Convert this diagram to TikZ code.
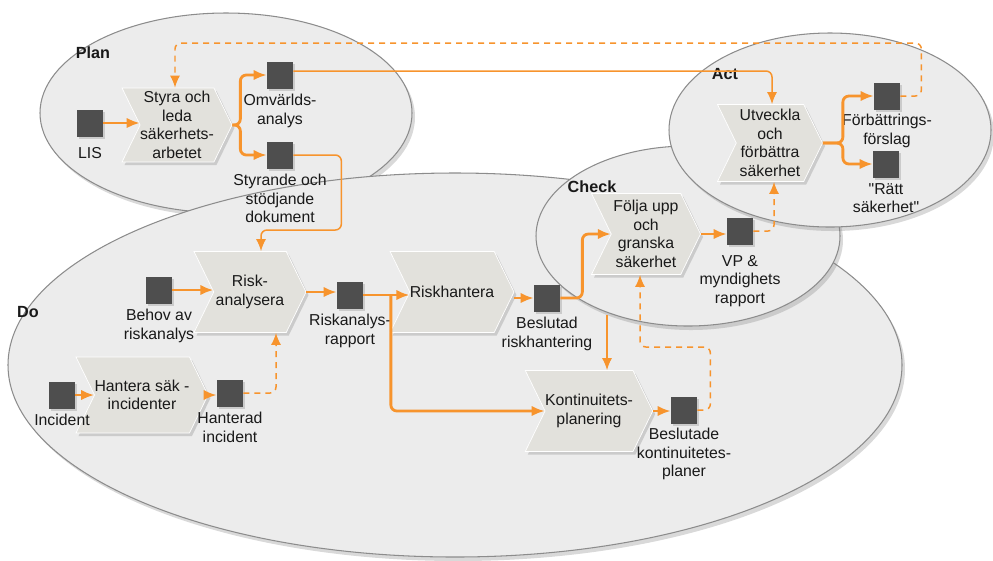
\documentclass[tikz,border=0pt]{standalone}
\usepackage{fontspec}
\setmainfont{Liberation Sans}[Ligatures=TeXOff]
\usetikzlibrary{shapes.symbols,arrows.meta,positioning,shadows}

\definecolor{floworange}{RGB}{247,148,45}
\definecolor{phasegray}{RGB}{236,236,236}
\definecolor{procgray}{RGB}{226,225,220}
\definecolor{docgray}{RGB}{78,78,78}

\tikzset{
  phase/.style={fill=phasegray, draw=black!45, line width=0.6pt,
    drop shadow={shadow xshift=0.6mm, shadow yshift=-0.8mm, opacity=0.3}},
  phasename/.style={font=\bfseries\fontsize{9.2}{11}\selectfont, inner sep=0pt},
  proc/.style={shape=signal, signal to=east, signal from=west, signal pointer angle=128,
    fill=procgray, draw=white, line width=0.4pt, minimum width=22.4mm, minimum height=16.2mm,
    inner sep=0pt, align=center,
    drop shadow={shadow xshift=0.5mm, shadow yshift=-0.6mm, opacity=0.3}},
  doc/.style={fill=docgray, minimum width=5.2mm, minimum height=5.4mm, inner sep=0pt,
    drop shadow={shadow xshift=0.4mm, shadow yshift=-0.5mm, opacity=0.3}},
  doclabel/.style={align=center, inner sep=0pt},
  flow/.style={draw=floworange, line width=1.6pt, rounded corners=1.2mm,
    -{Latex[length=2.6mm,width=2.1mm]}},
  link/.style={draw=floworange, line width=0.85pt, rounded corners=1.2mm,
    -{Latex[length=2.4mm,width=2mm]}},
  back/.style={link, dash pattern=on 1.2mm off 1mm},
}

\begin{document}
\begin{tikzpicture}[x=0.2mm, y=-0.2mm, font=\fontsize{9}{10.6}\selectfont, text=black!90]
\useasboundingbox (0,0) rectangle (993,560);

% phases
\draw[phase] (226,113) ellipse [x radius=186, y radius=100];
\draw[phase] (455,365) ellipse [x radius=447, y radius=192];
\draw[phase] (688,236) ellipse [x radius=152, y radius=90];
\draw[phase] (830,130) ellipse [x radius=161, y radius=97];

\node[phasename] (plan) at (93,53) {Plan};
\node[phasename] (do) at (28,312) {Do};
\node[phasename] (check) at (592,187) {Check};
\node[phasename] (act) at (725,74) {Act};

% processes
\node[proc, minimum width=21.2mm, minimum height=14.8mm] (styra) at (177,125) {Styra och\\leda\\säkerhets-\\arbetet};
\node[proc] (riskan) at (250,292) {Risk-\\analysera};
\node[proc, minimum width=22.6mm] (riskh) at (452,292) {Riskhantera};
\node[proc, minimum width=20.6mm, minimum height=15.2mm] (hant) at (142,395) {Hantera säk -\\incidenter};
\node[proc] (kont) at (589,411) {Kontinuitets-\\planering};
\node[proc, minimum width=21.8mm] (folja) at (646,234) {Följa upp\\och\\granska\\säkerhet};
\node[proc, minimum width=21mm, minimum height=15.4mm] (utv) at (770,143) {Utveckla\\och\\förbättra\\säkerhet};

% documents
\node[doc] (lis) at (90,123) {};
\node[doc] (omv) at (280,75) {};
\node[doc] (styr) at (280,155) {};
\node[doc] (behov) at (159,290) {};
\node[doc] (rapp) at (350,295) {};
\node[doc] (inc) at (62,395) {};
\node[doc] (hanterad) at (230,393) {};
\node[doc] (beslr) at (547,298) {};
\node[doc] (beslk) at (684,410) {};
\node[doc] (vp) at (740,231) {};
\node[doc] (forb) at (887,96) {};
\node[doc] (ratt) at (886,164) {};

\node[doclabel, below=2mm of lis] (lis-t) {LIS};
\node[doclabel, below=1mm of omv] (omv-t) {Omvärlds-\\analys};
\node[doclabel, below=1mm of styr] (styr-t) {Styrande och\\stödjande\\dokument};
\node[doclabel, below=1mm of behov] (behov-t) {Behov av\\riskanalys};
\node[doclabel, below=1mm of rapp] (rapp-t) {Riskanalys-\\rapport};
\node[doclabel, below=1mm of inc] (inc-t) {Incident};
\node[doclabel, below=1mm of hanterad] (hanterad-t) {Hanterad\\incident};
\node[doclabel, below=1mm of beslr] (beslr-t) {Beslutad\\riskhantering};
\node[doclabel, below=0.8mm of beslk] (beslk-t) {Beslutade\\kontinuitetes-\\planer};
\node[doclabel, below=2mm of vp] (vp-t) {VP \&\\myndighets\\rapport};
\node[doclabel, below=0.8mm of forb] (forb-t) {Förbättrings-\\förslag};
\node[doclabel, below=1mm of ratt] (ratt-t) {"Rätt\\säkerhet"};

% junctions
\coordinate (styra-j) at ([xshift=1.6mm]styra.east);
\coordinate (rapp-j) at ([xshift=5.5mm]rapp.east);
\coordinate (utv-j) at ([xshift=4mm]utv.east);
\coordinate (beslr-k) at (607,315);

% plan
\draw[flow] (lis) -- (lis -| styra.west);
\draw[flow] (styra.east) -- (styra-j) |- (omv);
\draw[flow] (styra.east) -- (styra-j) |- (styr);
\draw[link] (styr.east) -- ++(48,0) -- ++(0,75) -| ([xshift=2.2mm]riskan.north);
\draw[link] ([yshift=0.8mm]omv.east) -| ([xshift=0.4mm]utv.north);

% do
\draw[flow] (behov) -- (behov -| riskan.west);
\draw[flow] (riskan.east) -- (riskan.east -| rapp.west);
\draw[flow] (rapp) -- (rapp -| riskh.west);
\draw[flow] (rapp-j) |- (kont.west);
\draw[flow] (riskh.east |- beslr) -- (beslr);
\draw[flow] (inc) -- (inc -| hant.west);
\draw[flow] (hant.east) -- (hant.east -| hanterad.west);
\draw[back] (hanterad.east) -| ([xshift=5.2mm]riskan.south);
\draw[link] (beslr-k) -- (beslr-k |- kont.north);
\draw[flow] (kont.east) -- (kont.east -| beslk.west);

% check
\draw[flow] (beslr.east) -- ++(22,0) |- (folja.west);
\draw[flow] (folja.east) -- (folja.east -| vp.west);
\draw[back] (beslk.east) -| ++(13,-63) -| ([xshift=-1.2mm]folja.south);
\draw[back] (vp.east) -| ([xshift=0.8mm]utv.south);

% act
\draw[flow] (utv.east) -- (utv-j) |- (forb);
\draw[flow] (utv.east) -- (utv-j) |- (ratt);
\draw[back] (forb.east) -| ++(21,-53) -| ([xshift=-0.4mm]styra.north);
\end{tikzpicture}
\end{document}
